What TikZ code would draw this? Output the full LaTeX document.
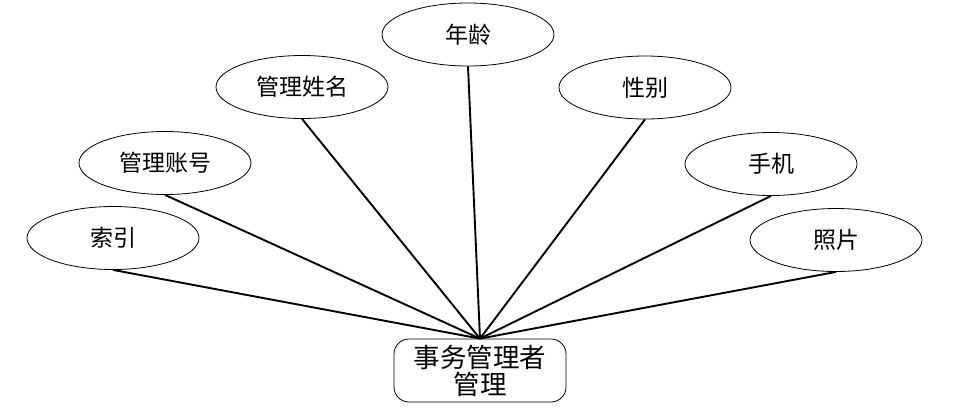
\documentclass[tikz,border=0pt]{standalone}
\usepackage{fontspec}
\newfontfamily\cjk{Noto Sans CJK SC}
\usetikzlibrary{shapes.geometric}
\begin{document}
\begin{tikzpicture}[x=1pt,y=-1pt,
  attr/.style={ellipse,draw,line width=0.8pt,minimum width=172pt,minimum height=63pt,inner sep=0pt,font=\cjk\fontsize{23}{26}\selectfont},
  ent/.style={rectangle,rounded corners=15pt,draw,line width=0.8pt,minimum width=172pt,minimum height=63pt,inner sep=0pt,align=center,font=\cjk\fontsize{26.5}{31}\selectfont},
  link/.style={line width=1.9pt}]
\useasboundingbox (0,0) rectangle (959,413);
\node[attr] (suoyin) at (113,238) {索引};
\node[attr] (zhanghao) at (165,163) {管理账号};
\node[attr] (xingming) at (302,87) {管理姓名};
\node[attr] (nianling) at (468,34.5) {年龄};
\node[attr] (xingbie) at (645,87.5) {性别};
\node[attr] (shouji) at (771,164) {手机};
\node[attr] (zhaopian) at (836,240) {照片};
\node[ent] (guanli) at (480,370.5) {事务管理者\\[-4pt]管理};
\foreach \n in {suoyin,zhanghao,xingming,nianling,xingbie,shouji,zhaopian}
  \draw[link] (\n.south) -- (guanli.north);
\end{tikzpicture}
\end{document}
